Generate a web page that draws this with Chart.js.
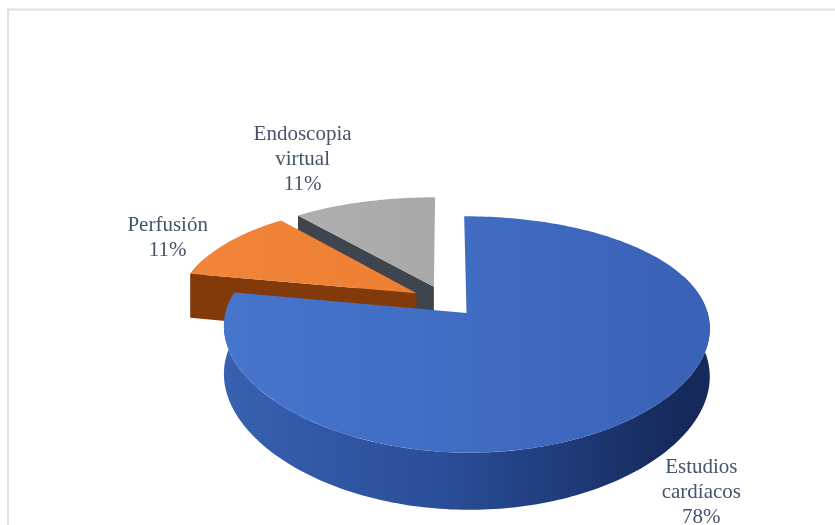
<!DOCTYPE html>
<html>
<head>
<meta charset="utf-8">
<script src="https://cdn.jsdelivr.net/npm/chart.js@4.4.1/dist/chart.umd.min.js"></script>
<style>
  html, body { margin: 0; padding: 0; background: #ffffff; }
  canvas { display: block; }
</style>
</head>
<body>
<canvas id="chart" width="835" height="525"></canvas>
<script>
// Categories (multi-line labels) and their shares in percent
const categories = [['Estudios', 'cardíacos'], ['Perfusión'], ['Endoscopia', 'virtual']];
const shares = [78, 11, 11];

// Face colours per slice
const topColors  = [['#4676cc', '#416dc4', '#3a62b7'], ['#f2853a', '#ed7d31', '#e27020'], ['#b3b3b3', '#a8a8a8', '#9b9b9b']];
const sideColors = [['#3862b3', '#2a4d98', '#15295a'], ['#7a3408', '#6e2e06', '#632904'], ['#6a6a6a', '#5a5a5a', '#4a4a4a']];
const cutColors  = ['#203f80', '#833a0a', '#3e454e'];

// Camera for the tilted, exploded pie
const VIEW = { cx: 445, cy: 301, rx: 238, ry: 110, perspX: 0.12, perspY: 0.177, depth: 46, explode: 0.14 };

// Label placement relative to the outer mid point of each slice
const LABEL_STYLE = [
  { h: 1, dx: 63, dy: 23 },
  { h: 0, dx: -59, dy: -5 },
  { h: 0, dx: -61, dy: -42 }
];

function project(u, v, h) {
  const fx = 1 / (1 - VIEW.perspX * v);
  const fy = 1 / (1 - VIEW.perspY * v);
  return [VIEW.cx + u * VIEW.rx * fx, VIEW.cy + (v * VIEW.ry + h * VIEW.depth) * fy];
}

function slicePoint(sl, a, r, h) {
  return project(sl.ox + Math.cos(a) * r, sl.oy + Math.sin(a) * r, h);
}

function hGradient(ctx, stops) {
  const g = ctx.createLinearGradient(VIEW.cx - VIEW.rx, 0, VIEW.cx + VIEW.rx, 0);
  g.addColorStop(0, stops[0]);
  g.addColorStop(0.5, stops[1]);
  g.addColorStop(1, stops[2]);
  return g;
}

function readSlices(chart) {
  const meta = chart.getDatasetMeta(0);
  return meta.data.map((arc, i) => {
    const p = arc.getProps(['startAngle', 'endAngle'], true);
    const mid = (p.startAngle + p.endAngle) / 2;
    return {
      i, s: p.startAngle, e: p.endAngle, mid,
      ox: Math.cos(mid) * VIEW.explode,
      oy: Math.sin(mid) * VIEW.explode
    };
  });
}

function drawSlice(ctx, sl) {
  const n = Math.max(8, Math.ceil((sl.e - sl.s) / 0.02));
  const ang = k => sl.s + (sl.e - sl.s) * k / n;

  // outer curved wall, only the part turned toward the viewer
  const ws = Math.max(sl.s, -0.35), we = Math.min(sl.e, Math.PI + 0.35);
  if (we > ws) {
    const m = Math.max(4, Math.ceil((we - ws) / 0.02));
    ctx.beginPath();
    for (let k = 0; k <= m; k++) {
      const p = slicePoint(sl, ws + (we - ws) * k / m, 1, 0);
      k === 0 ? ctx.moveTo(p[0], p[1]) : ctx.lineTo(p[0], p[1]);
    }
    for (let k = m; k >= 0; k--) {
      const p = slicePoint(sl, ws + (we - ws) * k / m, 1, 1);
      ctx.lineTo(p[0], p[1]);
    }
    ctx.closePath();
    ctx.fillStyle = hGradient(ctx, sideColors[sl.i]);
    ctx.fill();
  }

  // radial cut faces that turn toward the viewer
  const faces = [];
  if (-Math.cos(sl.s) > 0.02) faces.push(sl.s);
  if (Math.cos(sl.e) > 0.02) faces.push(sl.e);
  for (const a of faces) {
    const q = [slicePoint(sl, a, 0, 0), slicePoint(sl, a, 1, 0), slicePoint(sl, a, 1, 1), slicePoint(sl, a, 0, 1)];
    ctx.beginPath();
    ctx.moveTo(q[0][0], q[0][1]);
    for (let k = 1; k < 4; k++) ctx.lineTo(q[k][0], q[k][1]);
    ctx.closePath();
    ctx.fillStyle = cutColors[sl.i];
    ctx.fill();
  }

  // top face
  ctx.beginPath();
  const apex = slicePoint(sl, sl.mid, 0, 0);
  ctx.moveTo(apex[0], apex[1]);
  for (let k = 0; k <= n; k++) {
    const p = slicePoint(sl, ang(k), 1, 0);
    ctx.lineTo(p[0], p[1]);
  }
  ctx.closePath();
  ctx.fillStyle = hGradient(ctx, topColors[sl.i]);
  ctx.fill();
}

const pie3d = {
  id: 'pie3d',
  beforeDraw(chart) {
    const ctx = chart.ctx;
    ctx.save();
    ctx.strokeStyle = '#dce2e9';
    ctx.lineWidth = 2;
    ctx.strokeRect(8, 9.5, 900, 600);
    ctx.restore();
  },
  beforeDatasetsDraw(chart) {
    const ctx = chart.ctx;
    const slices = readSlices(chart).sort((a, b) => a.oy - b.oy);
    ctx.save();
    for (const sl of slices) drawSlice(ctx, sl);
    ctx.restore();
    return false;
  },
  afterDraw(chart) {
    const ctx = chart.ctx;
    const data = chart.data.datasets[0].data;
    const total = data.reduce((a, b) => a + b, 0);
    const lineH = 25;
    ctx.save();
    ctx.font = '21px "Liberation Serif", "Times New Roman", serif';
    ctx.fillStyle = '#44546a';
    ctx.textAlign = 'center';
    ctx.textBaseline = 'middle';
    for (const sl of readSlices(chart)) {
      const st = LABEL_STYLE[sl.i];
      const anchor = slicePoint(sl, sl.mid, 1, st.h);
      const lines = [].concat(chart.data.labels[sl.i], Math.round(data[sl.i] / total * 100) + '%');
      const x = anchor[0] + st.dx;
      const y0 = anchor[1] + st.dy - (lines.length - 1) * lineH / 2;
      lines.forEach((t, k) => ctx.fillText(t, x, y0 + k * lineH));
    }
    ctx.restore();
  }
};

new Chart(document.getElementById('chart'), {
  type: 'pie',
  data: {
    labels: categories,
    datasets: [{ data: shares, backgroundColor: topColors.map(c => c[1]), borderWidth: 0 }]
  },
  options: {
    responsive: false,
    animation: false,
    devicePixelRatio: 1,
    plugins: { legend: { display: false }, tooltip: { enabled: false } }
  },
  plugins: [pie3d]
});
</script>
</body>
</html>
